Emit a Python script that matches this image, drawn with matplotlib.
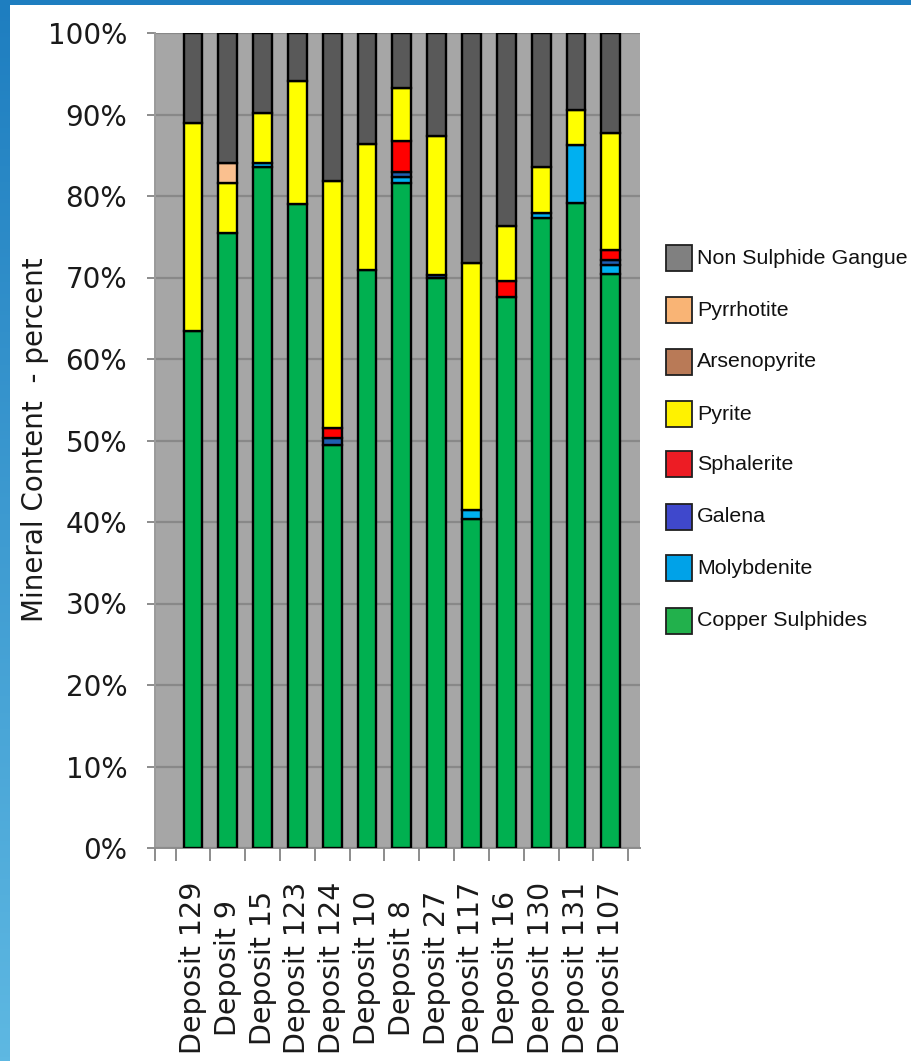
import numpy as np
import matplotlib
matplotlib.use("Agg")
import matplotlib.pyplot as plt
from matplotlib.patches import Rectangle
from matplotlib.transforms import blended_transform_factory

# --- data -----------------------------------------------------------------
deposits = ["Deposit 129", "Deposit 9", "Deposit 15", "Deposit 123", "Deposit 124",
            "Deposit 10", "Deposit 8", "Deposit 27", "Deposit 117", "Deposit 16",
            "Deposit 130", "Deposit 131", "Deposit 107"]

copper_sulphides = [63.4, 75.4, 83.5, 79.0, 49.4, 70.9, 81.6, 69.9, 40.4, 67.6, 77.3, 79.2, 70.4]
molybdenite      = [0.0, 0.0, 0.6, 0.0, 0.0, 0.0, 0.7, 0.0, 1.1, 0.0, 0.6, 7.1, 1.1]
galena           = [0.0, 0.0, 0.0, 0.0, 0.9, 0.0, 0.6, 0.4, 0.0, 0.0, 0.0, 0.0, 0.6]
sphalerite       = [0.0, 0.0, 0.0, 0.0, 1.2, 0.0, 3.9, 0.0, 0.0, 2.0, 0.0, 0.0, 1.3]
pyrite           = [25.5, 6.2, 6.1, 15.1, 30.3, 15.5, 6.4, 17.1, 30.3, 6.7, 5.6, 4.3, 14.3]
arsenopyrite     = [0.0] * 13
pyrrhotite       = [0.0, 2.5, 0.0, 0.0, 0.0, 0.0, 0.0, 0.0, 0.0, 0.0, 0.0, 0.0, 0.0]
gangue           = [11.1, 15.9, 9.8, 5.9, 18.2, 13.6, 6.8, 12.6, 28.2, 23.7, 16.5, 9.4, 12.3]

series_names = ["Copper Sulphides", "Molybdenite", "Galena", "Sphalerite",
                "Pyrite", "Arsenopyrite", "Pyrrhotite", "Non Sulphide Gangue"]
series_values = [copper_sulphides, molybdenite, galena, sphalerite,
                 pyrite, arsenopyrite, pyrrhotite, gangue]
bar_colors = ["#00b050", "#00b0f0", "#1f5fb0", "#ff0000",
              "#ffff00", "#b97a57", "#fac08f", "#595959"]
key_colors = ["#22b14c", "#00a2e8", "#3f48cc", "#ed1c24",
              "#fff200", "#b97a57", "#f9b475", "#808080"]

y_ticks = np.arange(0, 101, 10)
y_tick_labels = [f"{v}%" for v in y_ticks]

# --- figure ---------------------------------------------------------------
W, H = 911, 1061
fig = plt.figure(figsize=(W / 100, H / 100), dpi=100)
fig.patch.set_facecolor("white")

# blue frame: gradient strip on the left, solid band along the top
left_strip = fig.add_axes([0, 0, 10 / W, 1])
grad = np.linspace(0, 1, 256).reshape(-1, 1)
c_top = np.array([0x1e, 0x7e, 0xc0]) / 255
c_bot = np.array([0x5e, 0xb8, 0xe2]) / 255
img = c_top[None, None, :] * (1 - grad[:, :, None]) + c_bot[None, None, :] * grad[:, :, None]
left_strip.imshow(img, aspect="auto", extent=[0, 1, 0, 1])
left_strip.axis("off")
fig.patches.append(Rectangle((0, 1 - 5 / H), 1, 5 / H, transform=fig.transFigure,
                             facecolor="#1e7ec0", edgecolor="none", zorder=5))

# plot area
ax_l, ax_r, ax_t, ax_b = 155, 640, 33, 848
ax = fig.add_axes([ax_l / W, 1 - ax_b / H, (ax_r - ax_l) / W, (ax_b - ax_t) / H])
ax.set_facecolor("#a6a6a6")

x = np.arange(len(deposits))
bottom = np.zeros(len(deposits))
for name, vals, col in zip(series_names, series_values, bar_colors):
    vals = np.asarray(vals, dtype=float)
    mask = vals > 0
    ax.bar(x[mask], vals[mask], bottom=bottom[mask], width=0.54, color=col,
           edgecolor="black", linewidth=1.7, zorder=3, label=name)
    bottom += vals

ax.set_ylim(0, 100)
ax.set_xlim(-1.09, 12.84)
ax.set_yticks(y_ticks)
ax.set_yticklabels(y_tick_labels, fontsize=20, color="#1a1a1a", family="DejaVu Sans")
ax.yaxis.grid(True, color="#888888", linewidth=1.6, zorder=1)
ax.set_axisbelow(True)
ax.tick_params(axis="y", direction="out", length=6, width=1.4, color="#8c8c8c", pad=14)

boundaries = list(np.arange(-0.5, 12.6, 1.0))
ax.set_xticks([-1.09] + boundaries)
ax.set_xticklabels([])
ax.tick_params(axis="x", direction="out", length=9, width=1.4, color="#8c8c8c")

for side in ["top", "right"]:
    ax.spines[side].set_visible(False)
ax.spines["left"].set_color("#9a9a9a")
ax.spines["left"].set_linewidth(1.4)
ax.spines["bottom"].set_color("#8c8c8c")
ax.spines["bottom"].set_linewidth(1.4)

# category labels, rotated and centred in their band
tr = blended_transform_factory(ax.transData, fig.transFigure)
for xi, name in zip(x, deposits):
    ax.text(xi, 1 - 968 / H, name, transform=tr, rotation=90, ha="center", va="center",
            fontsize=20.5, color="#1a1a1a", family="DejaVu Sans", clip_on=False)

fig.text(35 / W, 1 - 440 / H, "Mineral Content  - percent", rotation=90,
         ha="center", va="center", fontsize=20, color="#1a1a1a", family="DejaVu Sans")

# key, listed top to bottom
row_y = [258, 310, 362, 414, 464, 517, 568, 621]
sw = 26
for yy, name, col in zip(row_y, series_names[::-1], key_colors[::-1]):
    fig.patches.append(Rectangle((666 / W, 1 - (yy + sw / 2) / H), sw / W, sw / H,
                                 transform=fig.transFigure, facecolor=col,
                                 edgecolor="#202020", linewidth=1.3))
    fig.text(697 / W, 1 - yy / H, name, ha="left", va="center", fontsize=15.4,
             family="Liberation Sans", color="#111111")

fig.savefig("out.png", dpi=100)
